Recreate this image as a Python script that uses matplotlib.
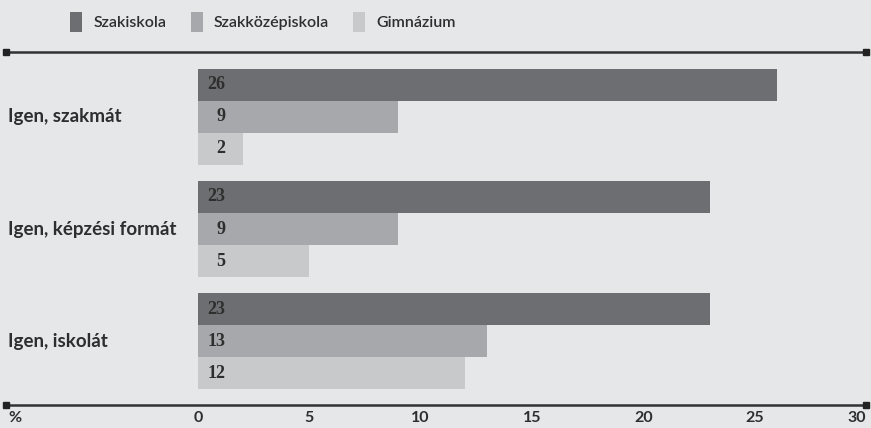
import matplotlib
import matplotlib.pyplot as plt
from matplotlib.lines import Line2D
from matplotlib.patches import Patch
from matplotlib.transforms import blended_transform_factory

matplotlib.use("Agg")

categories = ["Igen, szakmát", "Igen, képzési formát", "Igen, iskolát"]
series_names = ["Szakiskola", "Szakközépiskola", "Gimnázium"]
szakiskola = [26, 23, 23]
szakkozep = [9, 9, 13]
gimnazium = [2, 5, 12]
x_ticks = [0, 5, 10, 15, 20, 25, 30]

colors = ["#6d6e71", "#a7a8ab", "#c8c9cb"]
bg = "#e6e7e9"
ink = "#2e2e2e"
sans = "Lato"

W, H = 871, 428
fig = plt.figure(figsize=(W / 100, H / 100), dpi=100, facecolor=bg)
ax = fig.add_axes([198 / W, 1 - 405 / H, 668 / W, 353 / H])
ax.set_facecolor(bg)

bar_h = 0.2857
values = [szakiskola, szakkozep, gimnazium]
for i, (vals, col) in enumerate(zip(values, colors)):
    ys = [g + (i - 1) * bar_h for g in range(len(categories))]
    ax.barh(ys, vals, height=bar_h, color=col, edgecolor="none")
    for y, v in zip(ys, vals):
        ax.annotate(str(v), xy=(0, y), xytext=(19.5, 0), textcoords="offset points",
                    ha="right", va="center", fontsize=13, fontweight="bold",
                    family="Liberation Serif", color=ink)

ax.set_xlim(0, 30)
ax.set_ylim(2.571, -0.58)
ax.set_yticks([])
ax.set_xticks(x_ticks)
ax.set_xticklabels([str(t) for t in x_ticks], family=sans, fontweight="bold",
                   fontsize=11.5, color=ink)
ax.get_xticklabels()[-1].set_ha("right")
ax.tick_params(axis="x", length=0, pad=4)
for s in ax.spines.values():
    s.set_visible(False)

# category names sit at the left edge of the figure
trans = blended_transform_factory(fig.transFigure, ax.transData)
for g, name in enumerate(categories):
    ax.text(8 / W, g, name, transform=trans, ha="left", va="center",
            fontsize=13.5, fontweight="bold", family=sans, color=ink)

# rules above and below the plot with square end caps
for yp in (52, 405):
    y = 1 - yp / H
    fig.add_artist(Line2D([6 / W, 866 / W], [y, y], color="#333333", lw=1.8,
                          marker="s", markersize=4, markerfacecolor="#222222",
                          markeredgecolor="#222222"))

fig.text(15 / W, 1 - 418 / H, "%", ha="center", va="center", family=sans,
         fontweight="bold", fontsize=11.5, color=ink)

handles = [Patch(facecolor=c, edgecolor="none") for c in colors]
fig.legend(handles, series_names, loc="center", bbox_to_anchor=(263 / W, 1 - 22 / H),
           ncol=3, frameon=False, handlelength=0.75, handleheight=1.6,
           handletextpad=0.7, columnspacing=1.5,
           prop={"family": sans, "size": 11.5, "weight": "semibold"})
for t in fig.legends[0].get_texts():
    t.set_color(ink)

fig.savefig("out.png", dpi=100, facecolor=bg)
